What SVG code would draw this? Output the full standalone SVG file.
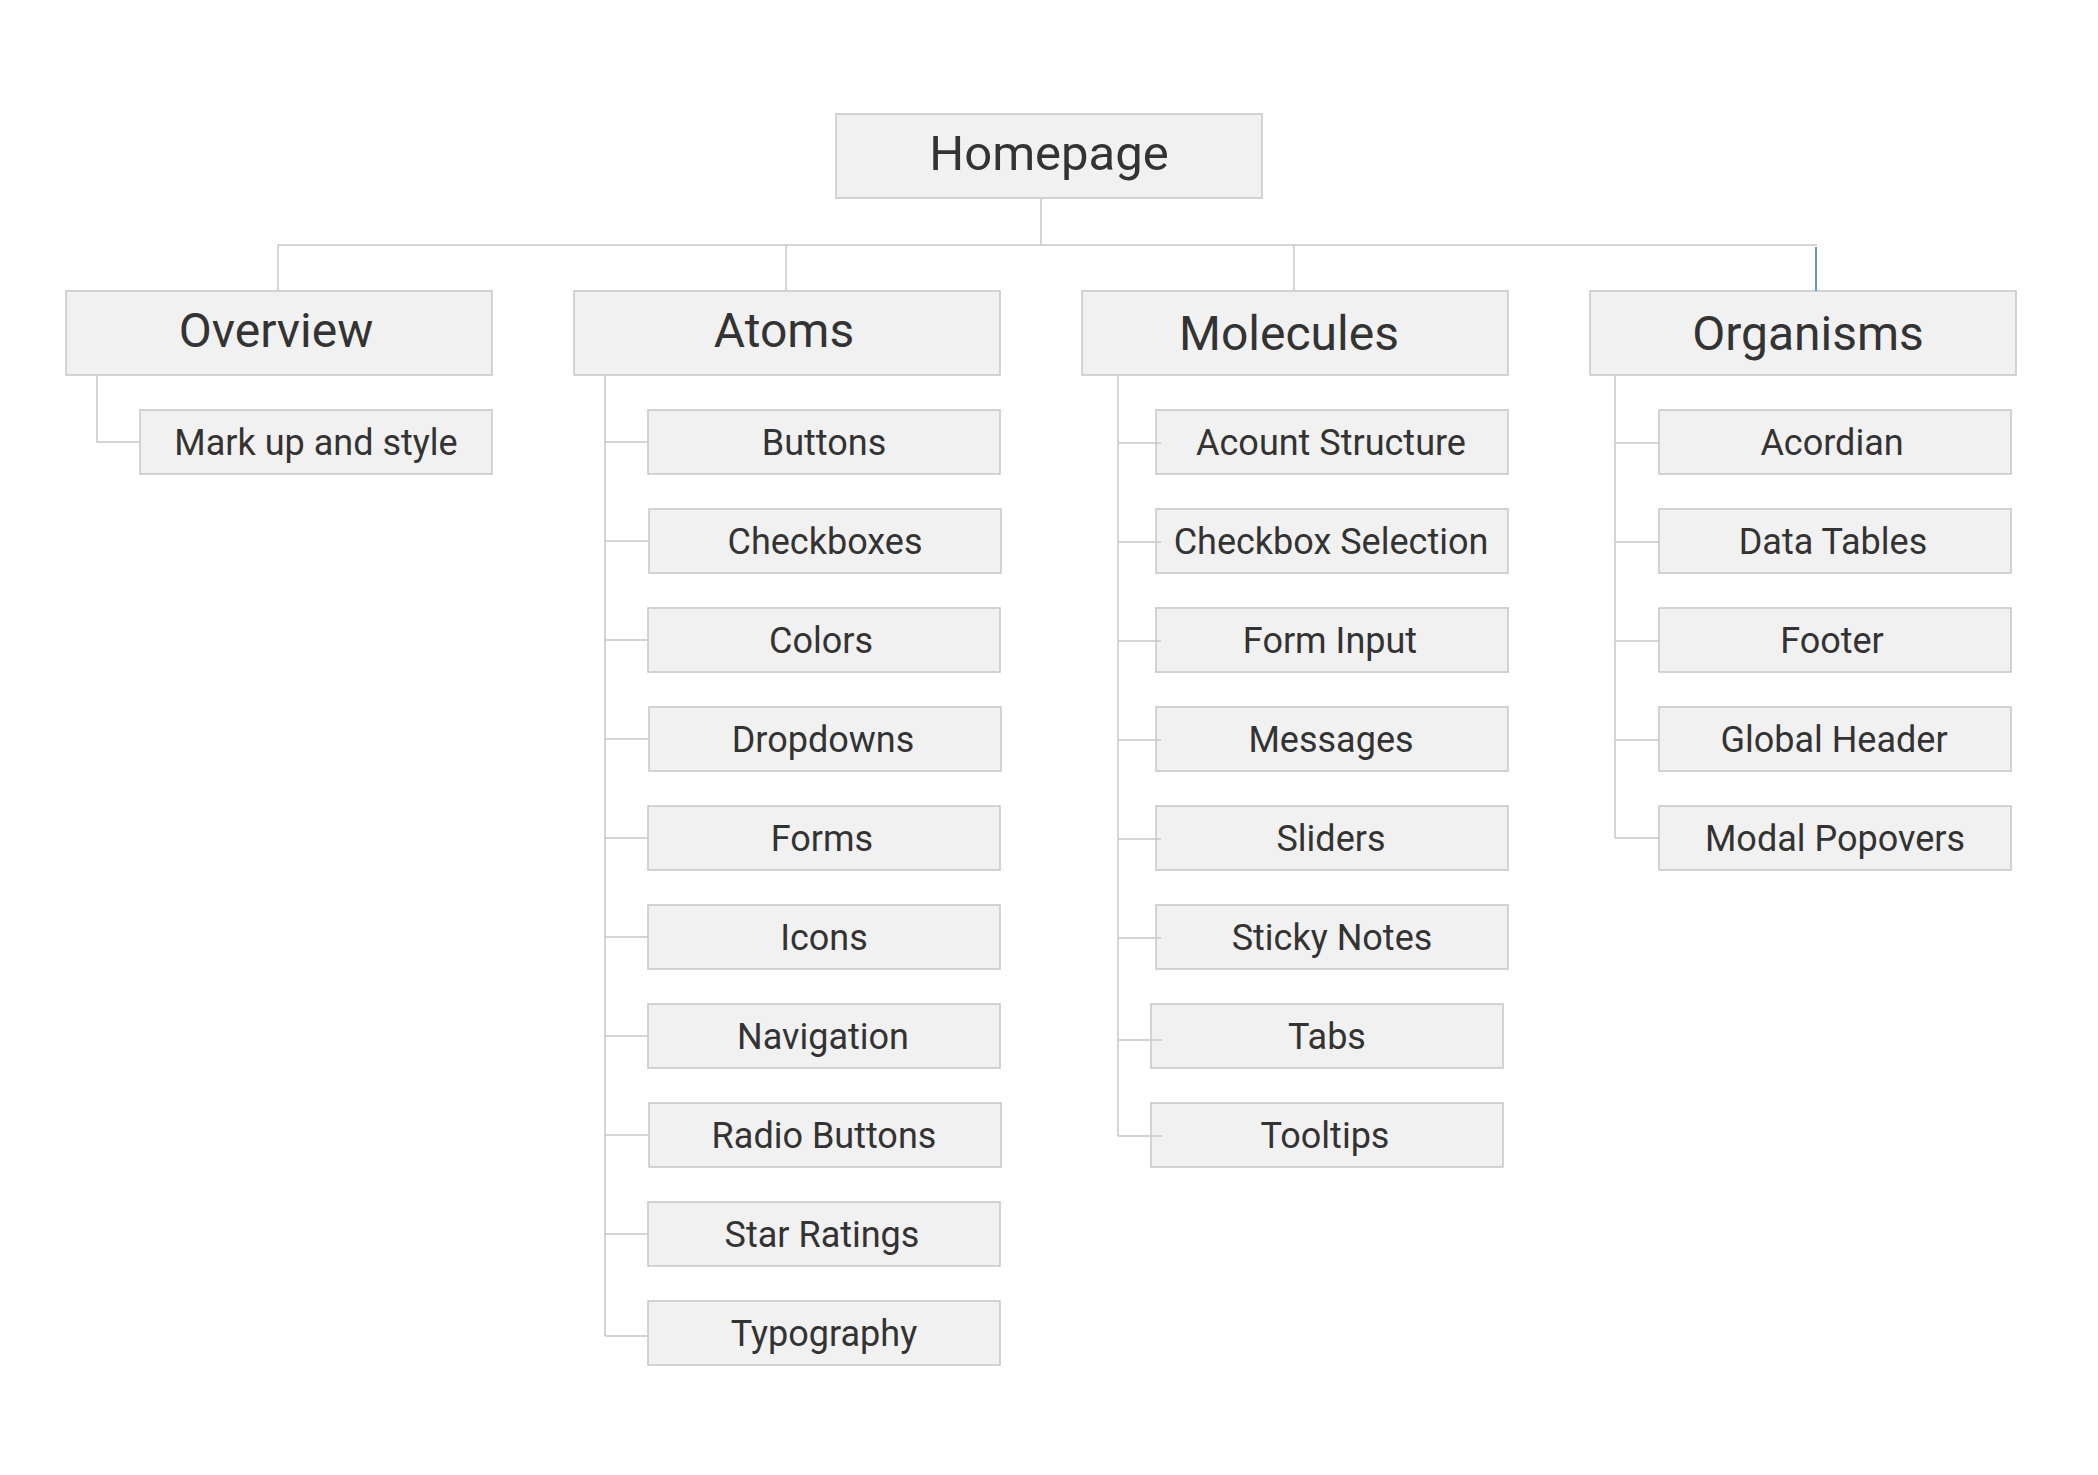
<svg xmlns="http://www.w3.org/2000/svg" width="2098" height="1475" viewBox="0 0 2098 1475">
<style>
.box{fill:#f1f1f1;stroke:#c6c6c6;stroke-width:1.5}
.t{font-family:Roboto,"Liberation Sans",sans-serif;fill:#333;text-anchor:middle}
.h0{font-size:49px}
.h1{font-size:48px}
.c{font-size:36px}
.ln{fill:none;stroke:#c8c8c8;stroke-width:1.5}
</style>
<rect width="2098" height="1475" fill="#fff"/>
<g id="nodes">
<g id="homepage"><rect class="box" x="836" y="114" width="426" height="84"/><text class="t h0" x="1049" y="170">Homepage</text></g>
<g id="overview"><rect class="box" x="66" y="291" width="426" height="84"/><text class="t h1" x="276" y="347">Overview</text></g>
<g id="atoms"><rect class="box" x="574" y="291" width="426" height="84"/><text class="t h1" x="784" y="347">Atoms</text></g>
<g id="molecules"><rect class="box" x="1082" y="291" width="426" height="84"/><text class="t h1" x="1289" y="350">Molecules</text></g>
<g id="organisms"><rect class="box" x="1590" y="291" width="426" height="84"/><text class="t h1" x="1808" y="350">Organisms</text></g>

<g id="markup"><rect class="box" x="140" y="410" width="352" height="64"/><text class="t c" x="316" y="455">Mark up and style</text></g>

<g id="buttons"><rect class="box" x="648" y="410" width="352" height="64"/><text class="t c" x="824" y="455">Buttons</text></g>
<g id="checkboxes"><rect class="box" x="649" y="509" width="352" height="64"/><text class="t c" x="825" y="554">Checkboxes</text></g>
<g id="colors"><rect class="box" x="648" y="608" width="352" height="64"/><text class="t c" x="821" y="653">Colors</text></g>
<g id="dropdowns"><rect class="box" x="649" y="707" width="352" height="64"/><text class="t c" x="823" y="752">Dropdowns</text></g>
<g id="forms"><rect class="box" x="648" y="806" width="352" height="64"/><text class="t c" x="822" y="851">Forms</text></g>
<g id="icons"><rect class="box" x="648" y="905" width="352" height="64"/><text class="t c" x="824" y="950">Icons</text></g>
<g id="navigation"><rect class="box" x="648" y="1004" width="352" height="64"/><text class="t c" x="823" y="1049">Navigation</text></g>
<g id="radio"><rect class="box" x="649" y="1103" width="352" height="64"/><text class="t c" x="824" y="1148">Radio Buttons</text></g>
<g id="star"><rect class="box" x="648" y="1202" width="352" height="64"/><text class="t c" x="822" y="1247">Star Ratings</text></g>
<g id="typography"><rect class="box" x="648" y="1301" width="352" height="64"/><text class="t c" x="824" y="1346">Typography</text></g>

<g id="acount"><rect class="box" x="1156" y="410" width="352" height="64"/><text class="t c" x="1331" y="455">Acount Structure</text></g>
<g id="checkboxsel"><rect class="box" x="1156" y="509" width="352" height="64"/><text class="t c" x="1331" y="554">Checkbox Selection</text></g>
<g id="forminput"><rect class="box" x="1156" y="608" width="352" height="64"/><text class="t c" x="1330" y="653">Form Input</text></g>
<g id="messages"><rect class="box" x="1156" y="707" width="352" height="64"/><text class="t c" x="1331" y="752">Messages</text></g>
<g id="sliders"><rect class="box" x="1156" y="806" width="352" height="64"/><text class="t c" x="1331" y="851">Sliders</text></g>
<g id="sticky"><rect class="box" x="1156" y="905" width="352" height="64"/><text class="t c" x="1332" y="950">Sticky Notes</text></g>
<g id="tabs"><rect class="box" x="1151" y="1004" width="352" height="64"/><text class="t c" x="1327" y="1049">Tabs</text></g>
<g id="tooltips"><rect class="box" x="1151" y="1103" width="352" height="64"/><text class="t c" x="1325" y="1148">Tooltips</text></g>

<g id="acordian"><rect class="box" x="1659" y="410" width="352" height="64"/><text class="t c" x="1832" y="455">Acordian</text></g>
<g id="datatables"><rect class="box" x="1659" y="509" width="352" height="64"/><text class="t c" x="1833" y="554">Data Tables</text></g>
<g id="footer"><rect class="box" x="1659" y="608" width="352" height="64"/><text class="t c" x="1832" y="653">Footer</text></g>
<g id="globalheader"><rect class="box" x="1659" y="707" width="352" height="64"/><text class="t c" x="1834" y="752">Global Header</text></g>
<g id="modal"><rect class="box" x="1659" y="806" width="352" height="64"/><text class="t c" x="1835" y="851">Modal Popovers</text></g>
</g>
<g id="connectors">
<path class="ln" d="M1041 198V245M278 245H1817M278 245V291M786 245V291M1294 245V291"/>
<path d="M1816 247V291" fill="none" stroke="#2a7ab8" stroke-width="1.5"/>
<path class="ln" d="M97 375V442H140"/>
<path class="ln" d="M605 375V1336M605 442H648M605 541H649M605 640H648M605 739H649M605 838H648M605 937H648M605 1036H648M605 1135H649M605 1234H648M605 1336H648"/>
<path class="ln" d="M1118 375V1136M1118 443H1161M1118 542H1161M1118 641H1161M1118 740H1161M1118 839H1161M1118 938H1161M1118 1040H1162M1118 1136H1162"/>
<path class="ln" d="M1615 375V838M1615 443H1659M1615 542H1659M1615 641H1659M1615 740H1659M1615 838H1659"/>
</g>
</svg>
